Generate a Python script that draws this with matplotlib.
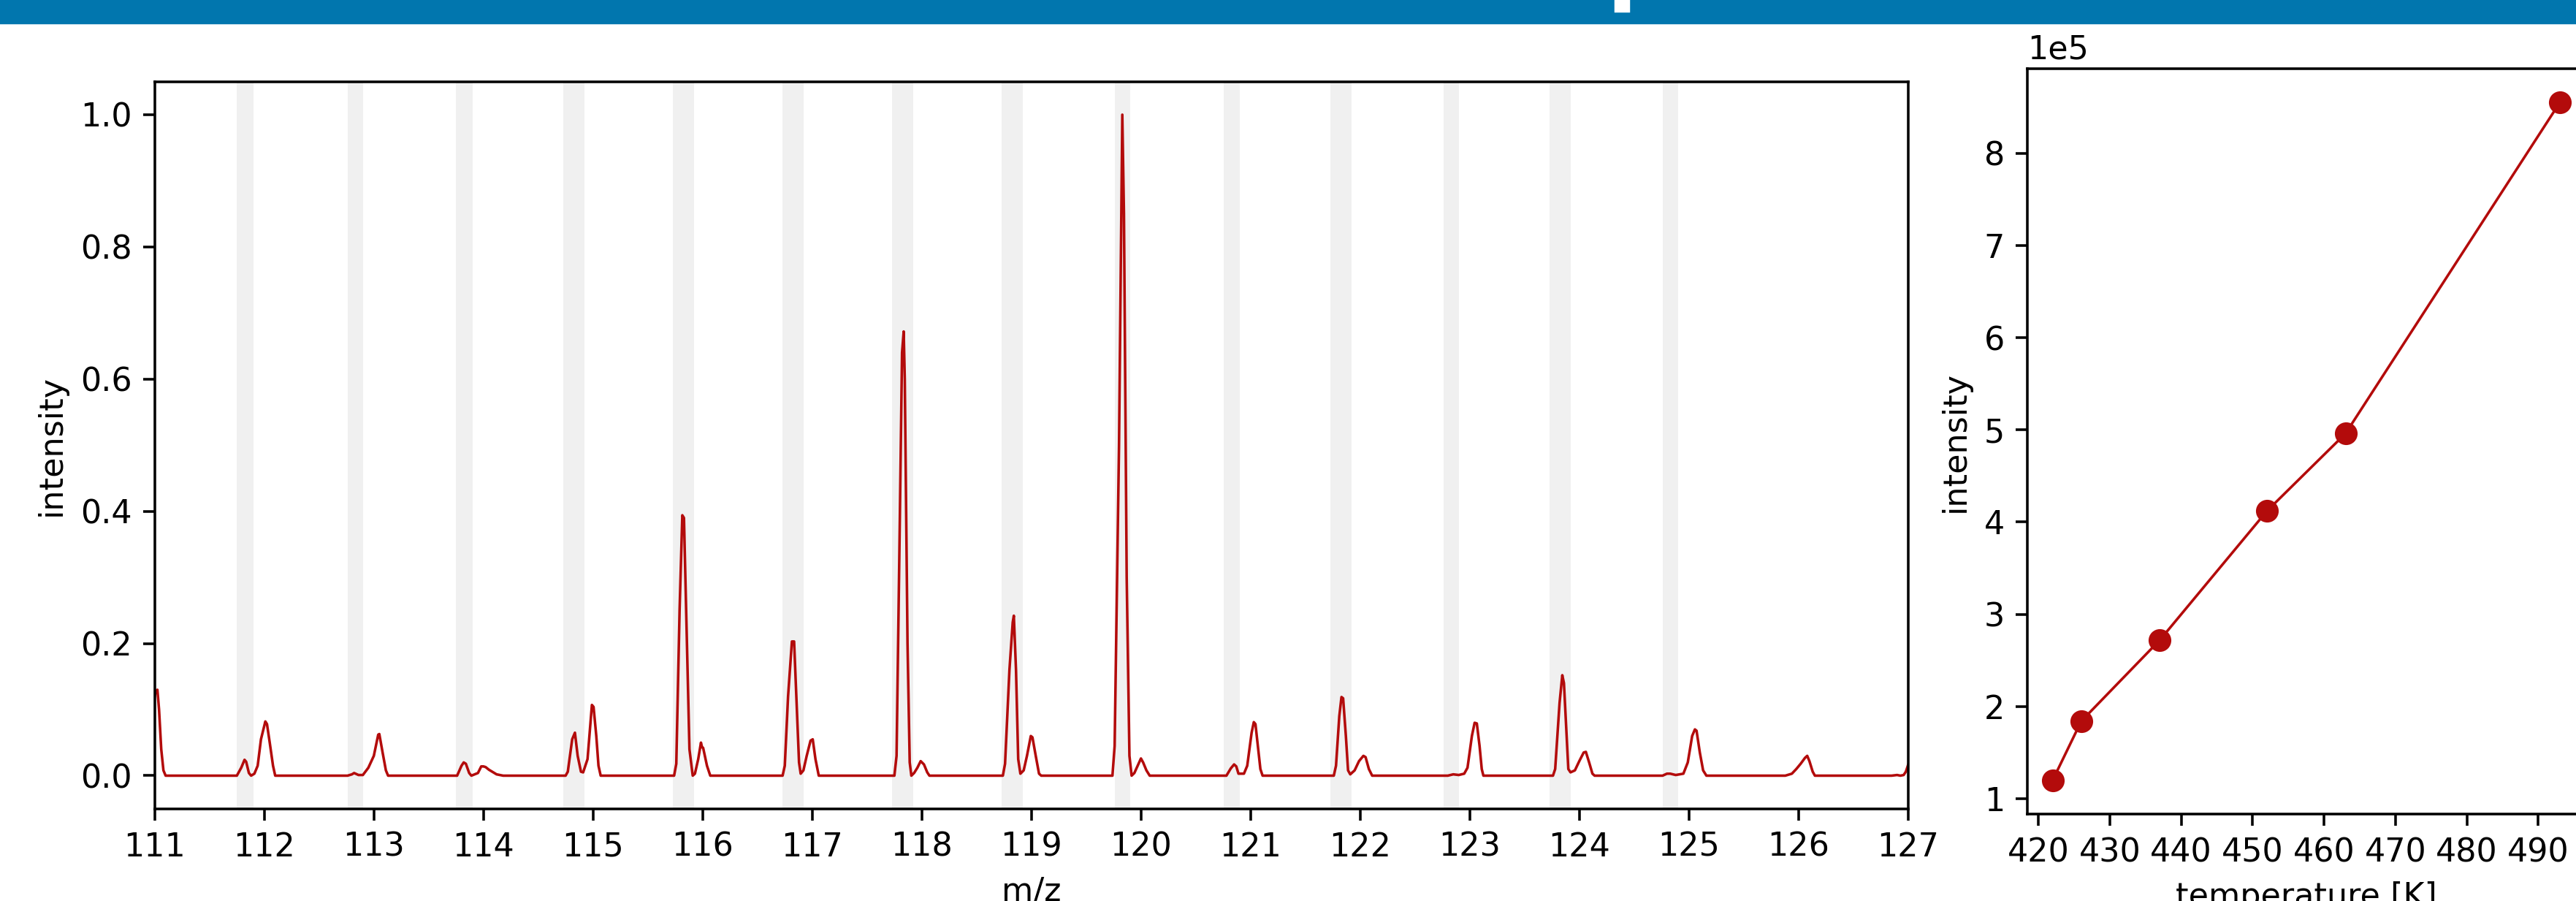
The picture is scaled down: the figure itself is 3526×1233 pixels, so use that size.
import numpy as np
import matplotlib
matplotlib.use("Agg")
import matplotlib.pyplot as plt
from matplotlib.patches import Rectangle
from matplotlib.ticker import MultipleLocator

# spectrum (m/z vs normalised intensity)
mz = [111.00, 111.01, 111.025, 111.04, 111.06, 111.08, 111.10,
      111.75, 111.79, 111.82, 111.835, 111.86, 111.88, 111.91, 111.94, 111.97, 112.01, 112.025, 112.05, 112.08, 112.10,
      112.76, 112.80, 112.82, 112.86, 112.90, 112.95, 113.00, 113.04, 113.05, 113.08, 113.11, 113.13,
      113.76, 113.80, 113.82, 113.84, 113.87, 113.89, 113.95, 113.98, 114.00, 114.02, 114.05, 114.07, 114.12, 114.18,
      114.75, 114.77, 114.81, 114.835, 114.86, 114.89, 114.91, 114.95, 114.99, 115.005, 115.03, 115.05, 115.07,
      115.74, 115.76, 115.79, 115.815, 115.83, 115.85, 115.88, 115.91, 115.93, 115.96, 115.985, 115.995, 116.005, 116.04, 116.07,
      116.73, 116.75, 116.78, 116.815, 116.835, 116.86, 116.88, 116.895, 116.92, 116.95, 116.985, 117.005, 117.03, 117.06,
      117.75, 117.77, 117.80, 117.82, 117.835, 117.845, 117.87, 117.89, 117.905, 117.93, 117.96, 117.99, 118.02, 118.05, 118.07,
      118.74, 118.76, 118.80, 118.83, 118.84, 118.86, 118.88, 118.90, 118.93, 118.96, 118.995, 119.01, 119.04, 119.07, 119.09,
      119.74, 119.76, 119.80, 119.83, 119.845, 119.87, 119.895, 119.915, 119.94, 119.97, 120.00, 120.02, 120.05, 120.08,
      120.78, 120.82, 120.85, 120.87, 120.89, 120.94, 120.97, 121.01, 121.03, 121.045, 121.07, 121.09, 121.11,
      121.76, 121.78, 121.81, 121.83, 121.845, 121.87, 121.89, 121.91, 121.95, 121.99, 122.03, 122.05, 122.08, 122.11,
      122.80, 122.85, 122.90, 122.95, 122.98, 123.02, 123.045, 123.065, 123.09, 123.11, 123.125,
      123.76, 123.78, 123.82, 123.845, 123.86, 123.88, 123.90, 123.92, 123.96, 124.00, 124.04, 124.06, 124.09, 124.12, 124.14,
      124.76, 124.80, 124.83, 124.88, 124.95, 124.99, 125.03, 125.055, 125.07, 125.10, 125.13, 125.16,
      125.88, 125.94, 125.98, 126.02, 126.06, 126.08, 126.10, 126.13, 126.15,
      126.85, 126.90, 126.93, 126.96, 126.98, 127.00]
intensity = [0.120, 0.128, 0.130, 0.100, 0.040, 0.008, 0.0,
             0.0, 0.012, 0.024, 0.021, 0.004, 0.0, 0.003, 0.015, 0.055, 0.082, 0.078, 0.050, 0.015, 0.0,
             0.0, 0.002, 0.004, 0.001, 0.001, 0.012, 0.030, 0.062, 0.063, 0.035, 0.008, 0.0,
             0.0, 0.015, 0.020, 0.018, 0.004, 0.0, 0.004, 0.014, 0.014, 0.013, 0.009, 0.007, 0.002, 0.0,
             0.0, 0.006, 0.055, 0.065, 0.030, 0.006, 0.005, 0.025, 0.107, 0.104, 0.060, 0.015, 0.0,
             0.0, 0.018, 0.250, 0.394, 0.390, 0.250, 0.040, 0.0, 0.003, 0.025, 0.050, 0.043, 0.042, 0.015, 0.0,
             0.0, 0.015, 0.120, 0.203, 0.203, 0.100, 0.020, 0.003, 0.008, 0.030, 0.053, 0.055, 0.025, 0.0,
             0.0, 0.030, 0.390, 0.640, 0.672, 0.600, 0.200, 0.020, 0.0, 0.004, 0.012, 0.022, 0.017, 0.005, 0.0,
             0.0, 0.018, 0.160, 0.232, 0.242, 0.160, 0.025, 0.003, 0.008, 0.030, 0.060, 0.058, 0.030, 0.003, 0.0,
             0.0, 0.045, 0.500, 1.000, 0.850, 0.300, 0.030, 0.0, 0.004, 0.015, 0.026, 0.020, 0.008, 0.0,
             0.0, 0.011, 0.017, 0.014, 0.003, 0.003, 0.015, 0.065, 0.081, 0.078, 0.040, 0.010, 0.0,
             0.0, 0.015, 0.090, 0.119, 0.117, 0.060, 0.008, 0.002, 0.008, 0.022, 0.030, 0.028, 0.010, 0.0,
             0.0, 0.002, 0.001, 0.003, 0.012, 0.060, 0.080, 0.079, 0.045, 0.010, 0.0,
             0.0, 0.010, 0.110, 0.152, 0.140, 0.075, 0.010, 0.005, 0.008, 0.022, 0.035, 0.036, 0.020, 0.003, 0.0,
             0.0, 0.003, 0.003, 0.001, 0.003, 0.020, 0.060, 0.070, 0.068, 0.035, 0.008, 0.0,
             0.0, 0.003, 0.010, 0.018, 0.027, 0.030, 0.022, 0.006, 0.0,
             0.0, 0.001, 0.0, 0.001, 0.006, 0.016]

# shaded m/z windows
band_start = [111.75, 112.76, 113.75, 114.73, 115.73, 116.73, 117.73,
              118.73, 119.76, 120.755, 121.73, 122.76, 123.73, 124.76]
band_end = [111.90, 112.90, 113.90, 114.92, 115.92, 116.92, 117.92,
            118.92, 119.905, 120.905, 121.92, 122.90, 123.92, 124.90]

# integrated intensity vs temperature
temperature = [422, 426, 437, 452, 463, 493]
peak_intensity = [1.20e5, 1.84e5, 2.72e5, 4.12e5, 4.96e5, 8.55e5]

red = "#b30b0b"
dpi = 320
fig = plt.figure(figsize=(3526 / dpi, 1233 / dpi), dpi=dpi)

# blue header strip (title cut off above)
fig.patches.append(Rectangle((0, 1 - 31 / 1233), 1, 31 / 1233, transform=fig.transFigure,
                             color="#0176ae", zorder=0))
fig.patches.append(Rectangle((2212 / 3526, 1 - 15 / 1233), 17 / 3526, 15 / 1233,
                             transform=fig.transFigure, color="white", zorder=1))

ax1 = fig.add_axes([0.06004, 0.10243, 0.68066, 0.80698])
for a, b in zip(band_start, band_end):
    ax1.axvspan(a, b, color="#f0f0f0", lw=0)
ax1.plot(mz, intensity, color=red, lw=0.8)
ax1.set_xlim(111, 127)
ax1.set_xticks(np.arange(111, 128, 1))
ax1.set_xlabel("m/z")
ax1.set_ylabel("intensity")

ax2 = fig.add_axes([0.78701, 0.09651, 0.21654, 0.82725])
ax2.plot(temperature, peak_intensity, "o-", color=red, lw=0.8, ms=6)
ax2.xaxis.set_major_locator(MultipleLocator(10))
ax2.ticklabel_format(axis="y", style="sci", scilimits=(0, 0))
ax2.set_xlabel("temperature [K]")
ax2.set_ylabel("intensity")

fig.savefig("out.png", dpi=dpi)
